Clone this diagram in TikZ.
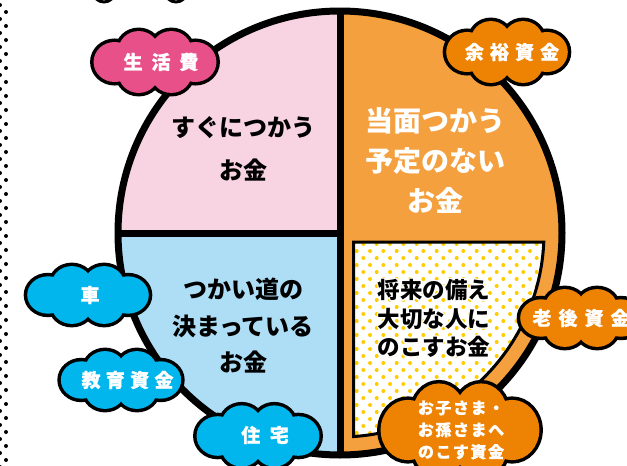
\documentclass[tikz,border=0pt]{standalone}
\usepackage{fontspec}
\setmainfont{Noto Sans CJK JP}
\usetikzlibrary{calc}
\definecolor{pinkfill}{HTML}{F8D3E1}
\definecolor{bluefill}{HTML}{ADDEF6}
\definecolor{orangefill}{HTML}{F4A03E}
\definecolor{cloudpink}{HTML}{E8508A}
\definecolor{cloudblue}{HTML}{00B6EC}
\definecolor{cloudorange}{HTML}{EE8203}
\definecolor{dotyellow}{HTML}{FFCC00}
\newcommand{\mycloud}[5]{%
\begin{scope}[shift={(#1,#2)},xscale=#3,yscale=#4]
\draw[line width=7pt] (-42,0) circle[radius=22] (42,0) circle[radius=22] (-17,-13) circle[radius=21] (17,-13) circle[radius=21] (-17,13) circle[radius=21] (17,13) circle[radius=21];
\fill[#5] (-42,0) circle[radius=22] (42,0) circle[radius=22] (-17,-13) circle[radius=21] (17,-13) circle[radius=21] (-17,13) circle[radius=21] (17,13) circle[radius=21];
\fill[#5] (-42,-13) rectangle (42,13);
\end{scope}}
\newcommand{\halotext}[1]{\leavevmode
\rlap{\color{white}\hspace{1.5pt}#1}\rlap{\color{white}\hspace{-1.5pt}#1}%
\rlap{\color{white}\raisebox{1.5pt}{#1}}\rlap{\color{white}\raisebox{-1.5pt}{#1}}%
\rlap{\color{white}\hspace{1.1pt}\raisebox{1.1pt}{#1}}\rlap{\color{white}\hspace{-1.1pt}\raisebox{1.1pt}{#1}}%
\rlap{\color{white}\hspace{1.1pt}\raisebox{-1.1pt}{#1}}\rlap{\color{white}\hspace{-1.1pt}\raisebox{-1.1pt}{#1}}%
#1}
\newcommand{\cfont}[2]{\bfseries\fontsize{#1}{22}\selectfont\addfontfeature{LetterSpace=#2,FakeBold=0.8}}
\begin{document}
\begin{tikzpicture}[x=1pt,y=-1pt,
  pieline/.style={line width=7pt,black},
  mainlbl/.style={align=center,inner sep=0pt,font=\bfseries\fontsize{24}{43}\selectfont},
  cloudlbl/.style={align=center,inner sep=0pt,text=white}]
\useasboundingbox (0,0) rectangle (627,466);
% left dotted border
\foreach \k in {0,...,33} {
  \fill (6,{12+14*\k}) circle[radius=2];
  \fill (0,{5+14*\k}) circle[radius=2];
}
% partial rings at top
\draw[line width=3pt] (104,-9) circle[radius=11];
\draw[line width=3pt] (176,-9) circle[radius=11];
% pie
\coordinate (C) at (340,233);
\coordinate (T) at (340,11);
\coordinate (B) at (340,455);
\coordinate (L) at (118,233);
\coordinate (inTL) at (353.5,242);
\fill[pinkfill] (C) -- ++(180:222pt) arc[start angle=180,end angle=90,radius=222pt] -- cycle;
\fill[bluefill] (C) -- ++(180:222pt) arc[start angle=180,end angle=270,radius=222pt] -- cycle;
\fill[orangefill] (C) -- ++(90:222pt) arc[start angle=90,end angle=-90,radius=222pt] -- cycle;
% dotted inset
\fill[white] (inTL) -- ($(C)+(-2.53:204pt)$) arc[start angle=-2.53,end angle=-86.2,radius=204pt] -- cycle;
\begin{scope}
\clip (inTL) -- ($(C)+(-2.53:204pt)$) arc[start angle=-2.53,end angle=-86.2,radius=204pt] -- cycle;
\foreach \i in {0,...,28} {
  \foreach \j in {0,...,15} {
    \pgfmathsetmacro\xx{356.7+13.33*\j+6.67*(1-mod(\i,2))}
    \fill[dotyellow] (\xx,{244+7*\i}) circle[radius=2];
  }
}
\end{scope}
\draw[line width=3pt] (inTL) -- ($(C)+(-2.53:204pt)$) arc[start angle=-2.53,end angle=-86.2,radius=204pt] -- cycle;
\draw[pieline] (T) -- (B);
\draw[pieline] (L) -- (C);
\draw[pieline] (C) circle[radius=222pt];
% clouds
\mycloud{155}{62}{0.96}{0.91}{cloudpink}
\mycloud{507}{52}{0.95}{0.91}{cloudorange}
\mycloud{88}{295}{0.95}{0.85}{cloudblue}
\mycloud{121}{380}{0.94}{0.85}{cloudblue}
\mycloud{258}{436}{0.96}{0.9}{cloudblue}
\mycloud{581}{318}{0.95}{0.85}{cloudorange}
\mycloud{460}{430}{1.24}{1.37}{cloudorange}
% main labels
\node[mainlbl] (pinklbl) at (243,148.5) {すぐにつかう\\お金};
\node[mainlbl,text=white,font=\bfseries\fontsize{28}{40}\selectfont] (orangelbl) at (435,160) {当面つかう\\予定のない\\お金};
\node[mainlbl,font=\bfseries\fontsize{24}{36.5}\selectfont] (bluelbl) at (243,326) {つかい道の\\決まっている\\お金};
\node[mainlbl,font=\bfseries\fontsize{22.5}{28.5}\selectfont] (insetlbl) at (434,318.5) {\halotext{将来の備え}\\\halotext{大切な人に}\\\halotext{のこすお金}};
% cloud labels
\node[cloudlbl,font=\cfont{19}{47}] (c1) at (161,62) {生活費};
\node[cloudlbl,font=\cfont{19}{32}] (c2) at (512,52) {余裕資金};
\node[cloudlbl,font=\cfont{19}{0}] (c3) at (90,295) {車};
\node[cloudlbl,font=\cfont{19}{28}] (c4) at (127.5,380) {教育資金};
\node[cloudlbl,font=\cfont{19}{50}] (c5) at (265,435) {住宅};
\node[cloudlbl,font=\cfont{19}{37}] (c6) at (581,318) {老後資金};
\node[cloudlbl,font=\cfont{16}{10}] (c7) at (461,430) {お子さま・\\お孫さまへ\\のこす資金};
\end{tikzpicture}
\end{document}
